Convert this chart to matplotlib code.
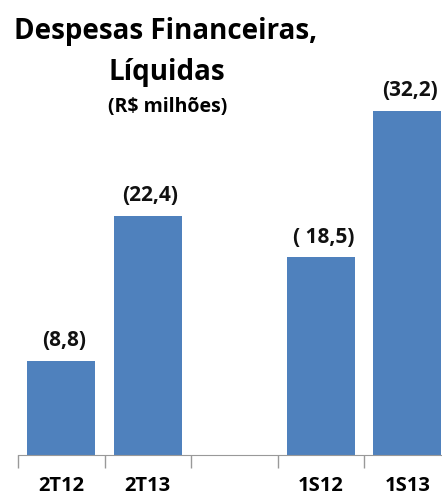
import numpy as np
import matplotlib.pyplot as plt

periods = ['2T12', '2T13', '', '1S12', '1S13']
values = [8.8, 22.4, 0.0, 18.5, 32.2]
value_labels = ['(8,8)', '(22,4)', '', '( 18,5)', '(32,2)']

plt.rcParams['font.family'] = ['Open Sans', 'DejaVu Sans']

W, H = 442, 498
fig = plt.figure(figsize=(W / 100, H / 100), dpi=100)

# axes runs a little past the right edge, so the last bar is clipped
ax = fig.add_axes([18 / W, (H - 455) / H, 432.5 / W, 406 / H])

x = np.arange(len(periods))
for i in range(len(periods)):
    if periods[i] == '':
        continue
    ax.bar(x[i], values[i], width=0.79, color='#4F81BD', zorder=2)
    ax.text(x[i] + 0.03, values[i] + 0.9, value_labels[i], ha='center', va='bottom',
            fontsize=15, fontweight='bold', color='#111111')

ax.set_xlim(-0.5, 4.5)
ax.set_ylim(0, 38)

# tick marks sit between categories, labels at the centres
ax.set_xticks(np.arange(-0.5, 5, 1.0))
ax.set_xticklabels([])
ax.set_xticks(x, minor=True)
ax.set_xticklabels(periods, minor=True, fontsize=14.5, fontweight='bold')
ax.tick_params(axis='x', which='major', length=9, width=1, color='#999999')
ax.tick_params(axis='x', which='minor', length=0, pad=15)
ax.set_yticks([])
for s in ['left', 'right', 'top']:
    ax.spines[s].set_visible(False)
ax.spines['bottom'].set_color('#999999')

fig.text(166 / W, 1 - 39 / H, 'Despesas Financeiras,', ha='center', va='baseline',
         fontsize=20, fontweight='bold')
fig.text(167 / W, 1 - 80 / H, 'Líquidas', ha='center', va='baseline',
         fontsize=20, fontweight='bold')
fig.text(168 / W, 1 - 107 / H, '(R$ milhões)', ha='center', va='center',
         fontsize=14, fontweight='bold')

fig.savefig('out.png', dpi=100)
